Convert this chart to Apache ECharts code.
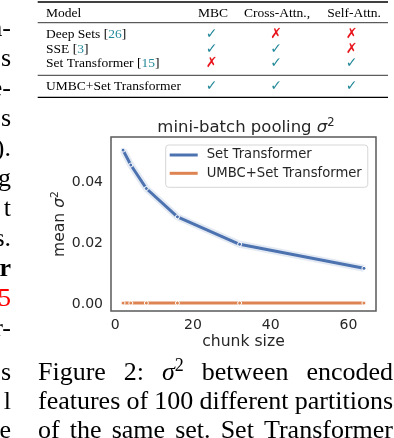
<!DOCTYPE html>
<html>
<head>
<meta charset="utf-8">
<script src="https://cdn.jsdelivr.net/npm/echarts@6/dist/echarts.min.js"></script>
<style>
  html, body { margin: 0; padding: 0; background: #fff; }
  #main { width: 394px; height: 438px; }
</style>
</head>
<body>
<div id="main"></div>
<script>
// chart data
var chunkSizes = [2, 4, 8, 16, 32, 64];
var setTransformer = [0.0505, 0.0456, 0.0379, 0.0286, 0.0196, 0.0117];
var umbcSetTransformer = [0.0003, 0.0003, 0.0003, 0.0003, 0.0003, 0.0003];
var xTicks = [0, 20, 40, 60];
var yTicks = [0, 0.02, 0.04];

// table above the chart (1 = check, 0 = cross)
var tableHead = ['Model', 'MBC', 'Cross-Attn.,', 'Self-Attn.'];
var tableModels = ['Deep Sets', 'SSE', 'Set Transformer', 'UMBC+Set Transformer'];
var tableCites = ['26', '3', '15', ''];
var tableMBC = [1, 1, 0, 1];
var tableCross = [0, 1, 1, 1];
var tableSelf = [0, 0, 1, 1];

// cut-off end of the left text column, and the caption
var leftColumn = ['a-', 's', 'e-', 's', ').', 'g', 't', 's.', 'r', '5', 'r-', 's', 'l', 'e'];
var captionLines = [
  ['Figure', '2:', '{i|σ}{s|2}', 'between', 'encoded'],
  ['features', 'of', '100', 'different', 'partitions'],
  ['of', 'the', 'same', 'set.', 'Set', 'Transformer']
];

var SERIF = '"Liberation Serif", "Times New Roman", serif';
var SANS = '"DejaVu Sans", sans-serif';
var INK = '#262626';
var LINK = '#24899a';
var RED = '#e8141c';

var chart = echarts.init(document.getElementById('main'));
var g = [];

function text(x, y, str, opt) {
  opt = opt || {};
  g.push({
    type: 'text', x: x, y: y, rotation: opt.rotation || 0, silent: true,
    style: {
      text: str,
      fill: opt.fill || '#000',
      fontFamily: opt.family || SERIF,
      fontSize: opt.size || 13.5,
      fontWeight: opt.weight || 'normal',
      align: opt.align || 'left',
      verticalAlign: 'middle',
      rich: opt.rich
    }
  });
}
function rule(x1, x2, y, w) {
  g.push({ type: 'line', silent: true, shape: { x1: x1, y1: y, x2: x2, y2: y },
    style: { stroke: '#000', lineWidth: w } });
}

// ---- table ----
var tL = 37.7, tR = 388;
rule(tL, tR, 2, 1.3);
rule(tL, tR, 22.7, 0.8);
rule(tL, tR, 75.3, 0.8);
rule(tL, tR, 97.3, 1.3);
var colX = [46, 213, 277, 354];
var markX = [211.7, 276, 351.7];
var rowY = [34.3, 49.3, 63.3, 86];
text(colX[0], 13.3, tableHead[0]);
for (var c = 1; c < 4; c++) text(colX[c], 13.3, tableHead[c], { align: 'center' });
var citeRich = { a: { fontFamily: SERIF, fontSize: 13.5, fill: '#000' },
                 c: { fontFamily: SERIF, fontSize: 13.5, fill: LINK } };
tableModels.forEach(function (m, i) {
  var s = tableCites[i] ? '{a|' + m + ' [}{c|' + tableCites[i] + '}{a|]}' : '{a|' + m + '}';
  text(colX[0], rowY[i], s, { rich: citeRich });
  [tableMBC[i], tableCross[i], tableSelf[i]].forEach(function (v, j) {
    text(markX[j], rowY[i], v ? '✓' : '✗',
      { align: 'center', family: SANS, size: 14, fill: v ? LINK : RED });
  });
});

// ---- left column fragments (right aligned at the column edge) ----
leftColumn.forEach(function (s, i) {
  var base = i < 11 ? 38 + 30 * i : 382 + 29 * (i - 11);
  text(11, base - 8.8, s, {
    align: 'right', size: 26,
    weight: i === 8 ? 'bold' : 'normal',
    fill: i === 9 ? '#f00' : '#000'
  });
});

// ---- caption, justified between x=38 and x=393 ----
var ctx = document.createElement('canvas').getContext('2d');
function wordWidth(w) {
  if (w.indexOf('{i|') === 0) {
    ctx.font = 'italic 26px ' + SERIF;
    var a = ctx.measureText('σ').width;
    ctx.font = '18px ' + SERIF;
    return a + ctx.measureText('2').width;
  }
  ctx.font = '26px ' + SERIF;
  return ctx.measureText(w).width;
}
var capRich = {
  i: { fontFamily: SERIF, fontSize: 26, fontStyle: 'italic', fill: '#000' },
  s: { fontFamily: SERIF, fontSize: 18, fill: '#000', padding: [0, 0, 14, 0] }
};
captionLines.forEach(function (words, li) {
  var widths = words.map(wordWidth);
  var total = widths.reduce(function (a, b) { return a + b; }, 0);
  var gap = (393 - 38 - total) / (words.length - 1);
  var x = 38;
  var base = 382 + 29 * li;
  words.forEach(function (w, k) {
    text(x, base - 8.8, w, { size: 26, rich: w.indexOf('{') === 0 ? capRich : undefined });
    x += widths[k] + gap;
  });
});

// ---- chart title and axis names ----
var supRich = function (size) {
  return {
    n: { fontFamily: SANS, fontSize: size, fill: INK },
    i: { fontFamily: SANS, fontSize: size, fontStyle: 'italic', fill: INK },
    s: { fontFamily: SANS, fontSize: size * 0.7, fill: INK, padding: [0, 0, size * 0.6, 0] }
  };
};
text(246, 128, '{n|mini-batch pooling }{i|σ}{s|2}', { align: 'center', rich: supRich(16.5) });
text(243.5, 341.5, 'chunk size', { align: 'center', family: SANS, size: 15.6, fill: INK });
text(60, 224, '{n|mean }{i|σ}{s|2}', { align: 'center', rotation: Math.PI / 2, rich: supRich(15.6) });

function pairs(ys) {
  return chunkSizes.map(function (x, i) { return [x, ys[i]]; });
}

chart.setOption({
  animation: false,
  grid: {
    left: 111, top: 137, width: 265, height: 174,
    show: true, borderColor: '#5a5a5a', borderWidth: 1.5, backgroundColor: 'transparent'
  },
  xAxis: {
    type: 'value', min: -1.1, max: 67.1,
    axisLine: { show: false }, axisTick: { show: false }, splitLine: { show: false },
    axisLabel: { customValues: xTicks, fontFamily: SANS, fontSize: 14, color: INK, margin: 7 }
  },
  yAxis: {
    type: 'value', min: -0.0023, max: 0.0548,
    axisLine: { show: false }, axisTick: { show: false }, splitLine: { show: false },
    axisLabel: {
      customValues: yTicks, fontFamily: SANS, fontSize: 14, color: INK, margin: 8,
      formatter: function (v) { return v.toFixed(2); }
    }
  },
  legend: {
    data: ['Set Transformer', 'UMBC+Set Transformer'],
    orient: 'vertical', left: 165.7, top: 145,
    icon: 'rect', itemWidth: 28, itemHeight: 3, itemGap: 0.3,
    padding: [1, 6, 5, 4],
    itemStyle: { borderWidth: 0 },
    backgroundColor: '#fff', borderColor: '#d6d6d6', borderWidth: 1, borderRadius: 3,
    textStyle: { fontFamily: SANS, fontSize: 13.2, color: INK, lineHeight: 18, padding: [0, 0, 0, 4] }
  },
  series: [
    {
      name: 'band', type: 'line', data: pairs(setTransformer), symbol: 'none', silent: true,
      lineStyle: { width: 7, color: 'rgba(76,114,176,0.15)' }, z: 1
    },
    {
      name: 'Set Transformer', type: 'line', data: pairs(setTransformer),
      symbol: 'circle', symbolSize: 4,
      lineStyle: { width: 3, color: '#4c72b0' },
      itemStyle: { color: '#4c72b0', borderColor: '#fff', borderWidth: 1 }, z: 3
    },
    {
      name: 'UMBC+Set Transformer', type: 'line', data: pairs(umbcSetTransformer),
      symbol: 'circle', symbolSize: 4,
      lineStyle: { width: 3, color: '#dd8452' },
      itemStyle: { color: '#dd8452', borderColor: '#fff', borderWidth: 1 }, z: 3
    }
  ],
  graphic: g
});
</script>
</body>
</html>
